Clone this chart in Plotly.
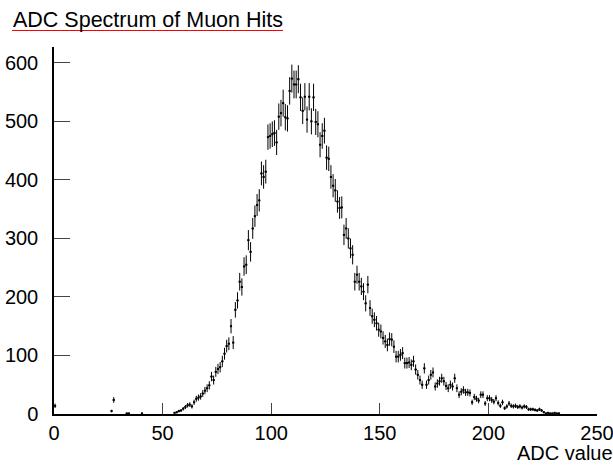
import math
import plotly.graph_objects as go

# ---- data (histogram of ADC values, bin width = 1 ADC count) ----
title_text = "ADC Spectrum of Muon Hits"
x_title = "ADC value"
x_ticks = [0, 50, 100, 150, 200, 250]
y_ticks = [0, 100, 200, 300, 400, 500, 600]

low_bins = [0, 26, 27, 33, 34, 40]
low_counts = [14, 5, 24, 1, 1, 1]

main_first_bin = 55
main_counts = [
    2, 3, 5, 6, 9, 12, 15, 16, 13, 20,
    26, 28, 30, 35, 40, 44, 49, 64, 58, 72,
    77, 80, 90, 103, 116, 120, 150, 122, 178, 194,
    226, 217, 252, 255, 297, 277, 317, 338, 357, 365,
    411, 405, 414, 473, 475, 478, 480, 464, 508, 514,
    531, 507, 505, 552, 573, 563, 563, 572, 541, 518,
    542, 503, 542, 500, 541, 499, 495, 460, 475, 484,
    438, 436, 405, 390, 382, 363, 352, 353, 306, 317,
    300, 283, 272, 226, 238, 226, 218, 209, 189, 221,
    181, 167, 161, 155, 144, 141, 130, 124, 118, 128,
    127, 115, 98, 98, 101, 104, 87, 87, 88, 84,
    90, 76, 67, 58, 50, 78, 50, 58, 67, 71,
    47, 52, 56, 61, 56, 48, 44, 50, 47, 61,
    44, 33, 38, 41, 37, 37, 36, 20, 29, 26,
    23, 33, 33, 18, 27, 27, 24, 21, 27, 19,
    14, 20, 10, 13, 18, 14, 13, 14, 12, 13,
    11, 13, 12, 8, 8, 8, 7, 6, 8, 6,
    3, 1, 2, 1, 1, 2, 1, 1,
]

bins = low_bins + [main_first_bin + i for i in range(len(main_counts))]
counts = low_counts + main_counts
centers = [b + 0.5 for b in bins]
errors = [math.sqrt(c) for c in counts]

# ---- layout constants (pixels) ----
W, H = 613, 466
L, R, T, B = 54, 16, 47, 52
PW, PH = W - L - R, H - T - B

def px_to_paper_x(px):
    return (px - L) / PW

def px_to_paper_y(py):
    return (H - B - py) / PH

FONT = "Liberation Sans, Arial, Helvetica, sans-serif"

fig = go.Figure()
fig.add_trace(go.Scatter(
    x=centers, y=counts, mode="markers",
    marker=dict(color="black", size=2, symbol="square"),
    error_y=dict(type="data", array=errors, visible=True, width=0,
                 thickness=1, color="black"),
    error_x=dict(type="constant", value=0.5, visible=True, width=0,
                 thickness=1, color="black"),
    hoverinfo="x+y", showlegend=False,
))

fig.update_layout(
    width=W, height=H,
    margin=dict(l=L, r=R, t=T, b=B, autoexpand=False),
    paper_bgcolor="white", plot_bgcolor="white",
    font=dict(family=FONT, color="black", size=20),
    showlegend=False,
)
fig.update_xaxes(
    range=[0, 250], tickvals=x_ticks, ticktext=[str(v) for v in x_ticks],
    showline=True, linecolor="black", linewidth=1.5,
    ticks="inside", ticklen=11, tickwidth=1, tickcolor="#444",
    showgrid=False, zeroline=False, tickfont=dict(size=20, family=FONT),
    ticklabelstandoff=0, ticklabeloverflow="allow",
)
fig.update_yaxes(
    range=[0, 627], tickvals=y_ticks, ticktext=[str(v) for v in y_ticks],
    showline=True, linecolor="black", linewidth=1.5,
    ticks="inside", ticklen=16, tickwidth=1, tickcolor="#444",
    showgrid=False, zeroline=False, tickfont=dict(size=20, family=FONT),
    ticklabelstandoff=10, ticklabeloverflow="allow",
)

fig.add_annotation(
    text=title_text, xref="paper", yref="paper",
    x=px_to_paper_x(11), y=px_to_paper_y(20), xanchor="left", yanchor="middle",
    showarrow=False, font=dict(size=21.5, family=FONT, color="black"),
)
fig.add_shape(
    type="line", xref="paper", yref="paper",
    x0=px_to_paper_x(12), x1=px_to_paper_x(283),
    y0=px_to_paper_y(30.5), y1=px_to_paper_y(30.5),
    line=dict(color="red", width=1),
)
fig.add_annotation(
    text=x_title, xref="paper", yref="paper",
    x=px_to_paper_x(615), y=px_to_paper_y(453), xanchor="right", yanchor="middle",
    showarrow=False, font=dict(size=20, family=FONT, color="black"),
)

fig.write_html("out.html")
